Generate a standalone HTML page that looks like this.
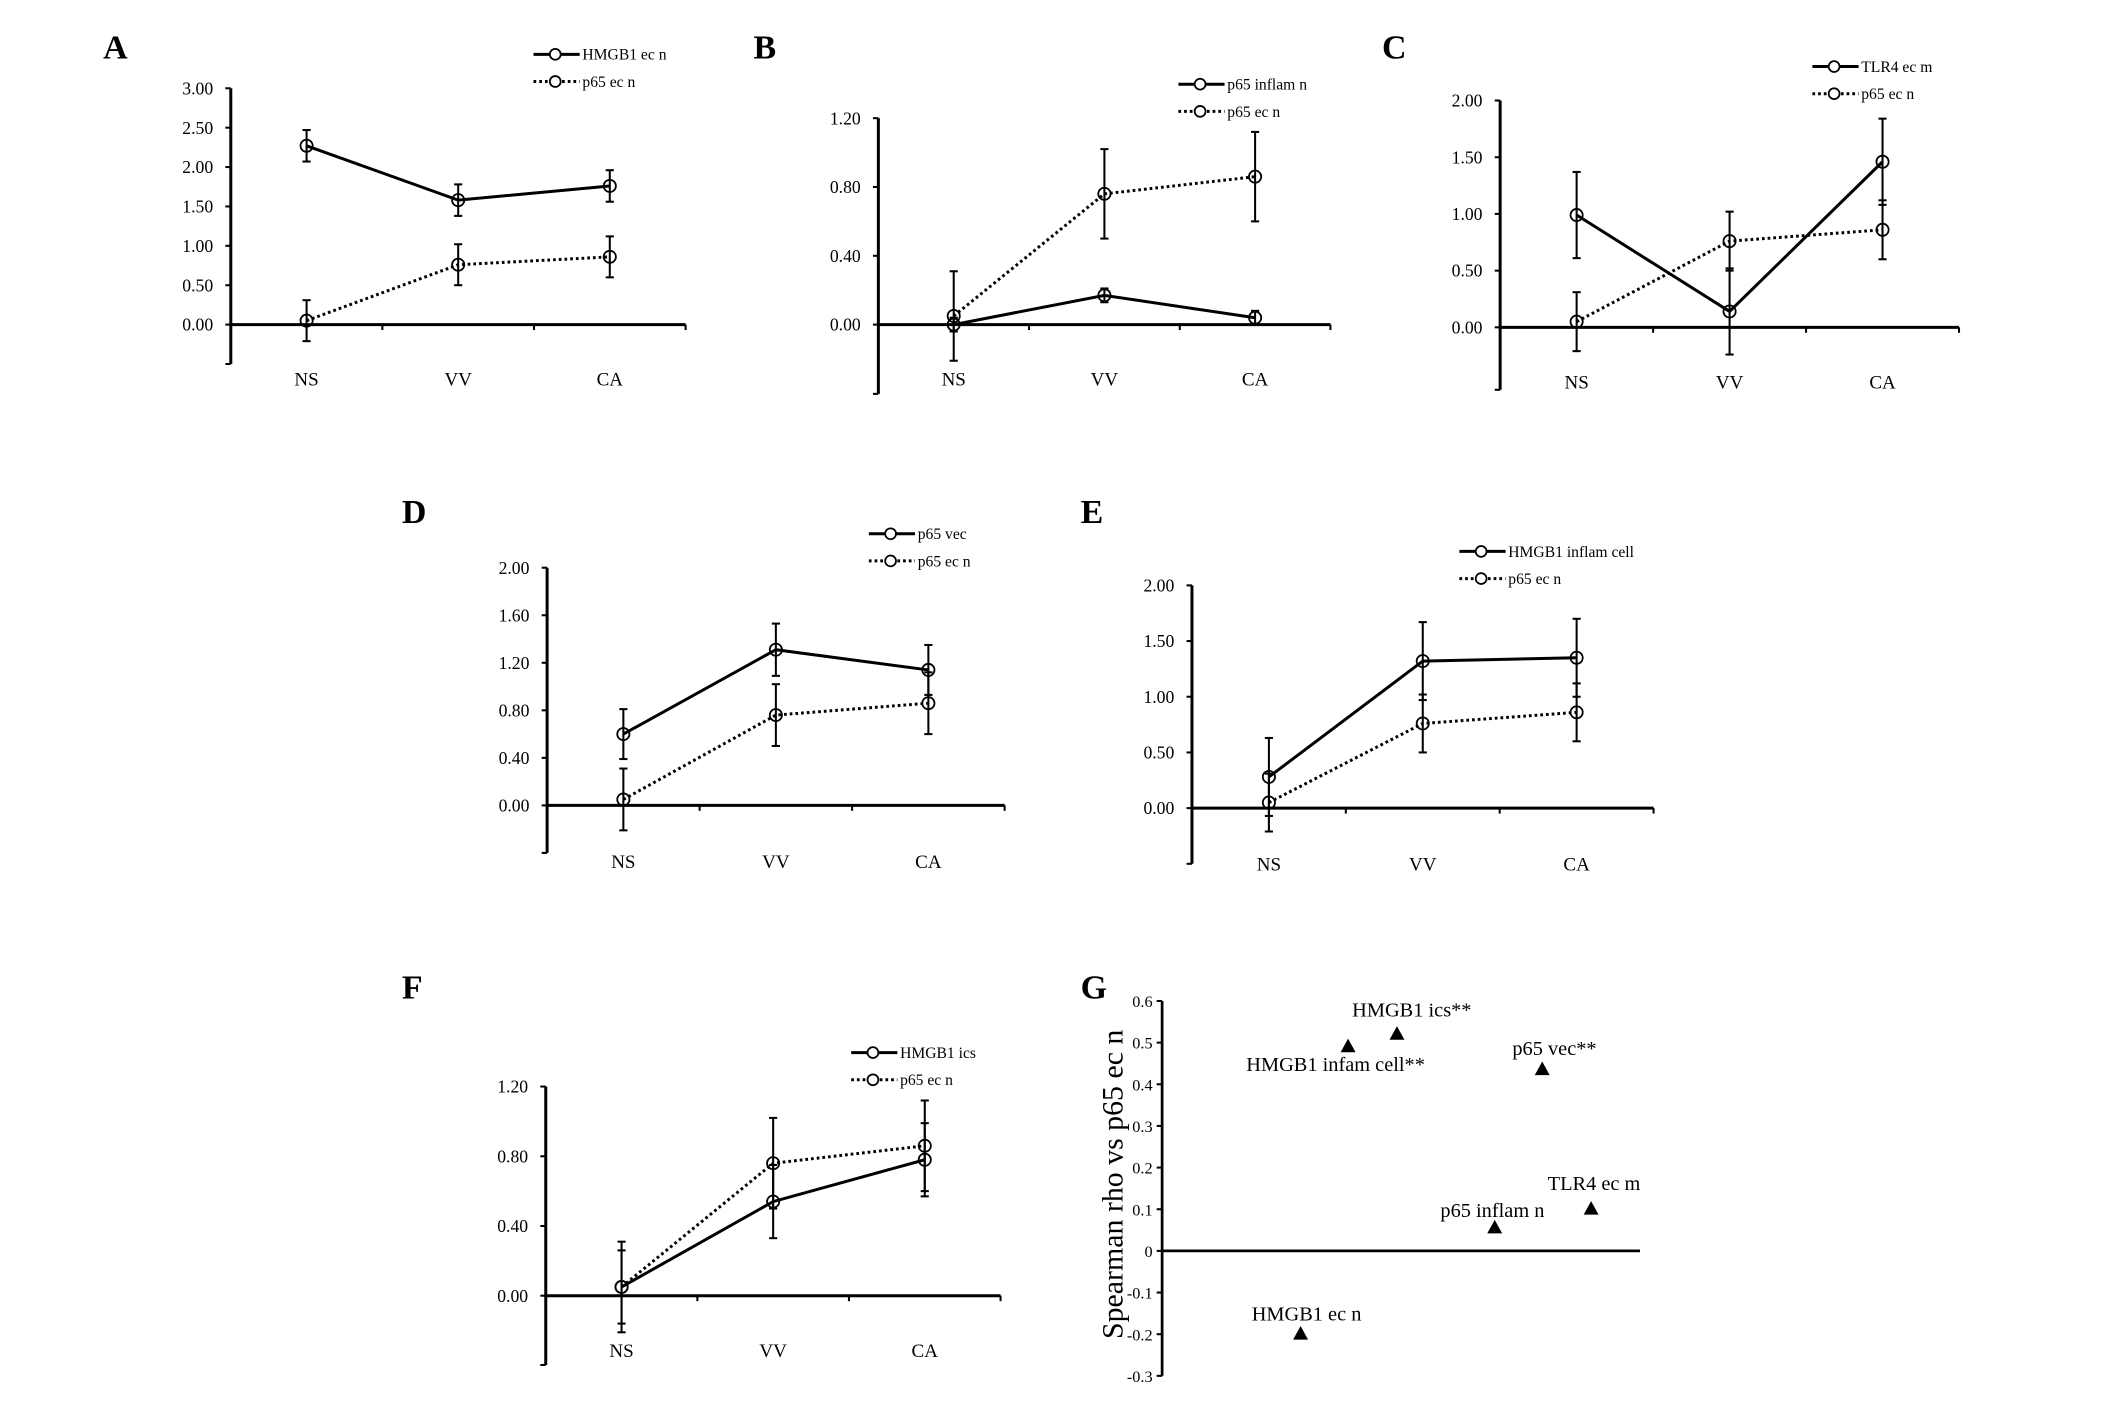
<!DOCTYPE html>
<html><head><meta charset="utf-8"><style>
html,body{margin:0;padding:0;background:#fff}
svg{display:block;font-family:"Liberation Serif",serif}
</style></head><body>
<svg id="fig" width="2126" height="1403" viewBox="0 0 1566 1033" preserveAspectRatio="none" xmlns="http://www.w3.org/2000/svg"></svg>
<script>
const categories = ["NS","VV","CA"];
const p65ecn = [0.05,0.76,0.86];
const p65ecnErr = [0.26,0.26,0.26];
const hmgb1ecn = [2.27,1.58,1.76];
const hmgb1ecnErr = [0.2,0.2,0.2];
const p65inflamn = [0.0,0.17,0.04];
const p65inflamnErr = [0.04,0.04,0.04];
const tlr4ecm = [0.99,0.14,1.46];
const tlr4ecmErr = [0.38,0.38,0.38];
const p65vec = [0.60,1.31,1.14];
const p65vecErr = [0.21,0.22,0.21];
const hmgb1inflamcell = [0.28,1.32,1.35];
const hmgb1inflamcellErr = [0.35,0.35,0.35];
const hmgb1ics = [0.05,0.54,0.78];
const hmgb1icsErr = [0.21,0.21,0.21];
const ticksA = [0,0.5,1,1.5,2,2.5,3];
const ticksB = [0,0.4,0.8,1.2];
const ticksC = [0,0.5,1,1.5,2];
const ticksD = [0,0.4,0.8,1.2,1.6,2];
const ticksE = [0,0.5,1,1.5,2];
const ticksF = [0,0.4,0.8,1.2];
const gLabels = ["HMGB1 ec n","HMGB1 infam cell**","HMGB1 ics**","p65 vec**","p65 inflam n","TLR4 ec m"];
const gRho = [-0.2,0.49,0.52,0.435,0.055,0.1];
const gTicks = [-0.3,-0.2,-0.1,0,0.1,0.2,0.3,0.4,0.5,0.6];

const NS="http://www.w3.org/2000/svg";
const svg=document.getElementById('fig');
function el(tag,attrs,parent){const e=document.createElementNS(NS,tag);for(const k in attrs)e.setAttribute(k,attrs[k]);(parent||svg).appendChild(e);return e;}
function txt(s,attrs,parent){const e=el('text',attrs,parent);e.textContent=s;return e;}

function panel(cfg){
  const g=el('g',{});
  
  
  const t=txt(cfg.letter,{x:cfg.lx,y:cfg.ly,'font-size':25,'font-weight':'bold'},g);
  
  
  const x0=cfg.ax,x1=cfg.axEnd,y0=cfg.zeroY,ymax=cfg.topY,tmax=cfg.ticks[cfg.ticks.length-1];
  const Y=v=>y0-(v/tmax)*(y0-ymax);
  const step=(x1-x0)/3;
  const X=i=>x0+step*(i+0.5);
  const ya=el('line',{x1:x0,y1:ymax,x2:x0,y2:cfg.bottomY,stroke:'#000','stroke-width':2.2},g);
  
  
  const xa=el('line',{x1:x0,y1:y0,x2:x1,y2:y0,stroke:'#000','stroke-width':2.2},g);
  
  
  for(let i=1;i<=3;i++) el('line',{x1:x0+step*i,y1:y0,x2:x0+step*i,y2:y0+4,stroke:'#000','stroke-width':1.5},g);
  el('line',{x1:x0-4,y1:cfg.bottomY,x2:x0,y2:cfg.bottomY,stroke:'#000','stroke-width':1.5},g);
  cfg.ticks.forEach(v=>{
    el('line',{x1:x0-4,y1:Y(v),x2:x0,y2:Y(v),stroke:'#000','stroke-width':1.5},g);
    const tl=txt(v.toFixed(2),{x:x0-13,y:Y(v)+4.5,'font-size':13,'text-anchor':'end'},g);
    
    
  });
  categories.forEach((c,i)=>{
    const cl=txt(c,{x:X(i),y:cfg.catY,'font-size':14,'text-anchor':'middle'},g);
    
    
  });
  cfg.series.forEach((s,si)=>{
    const dash=s.dotted?'2,2.2':'none';
    const pts=s.vals.map((v,i)=>X(i)+','+Y(v)).join(' ');
    const pl=el('polyline',{points:pts,fill:'none',stroke:'#000','stroke-width':2.2,'stroke-dasharray':dash},g);
    
    
    s.vals.forEach((v,i)=>{
      const e=s.err[i];
      el('line',{x1:X(i),y1:Y(v-e),x2:X(i),y2:Y(v+e),stroke:'#000','stroke-width':1.5},g);
      el('line',{x1:X(i)-3,y1:Y(v-e),x2:X(i)+3,y2:Y(v-e),stroke:'#000','stroke-width':1.5},g);
      el('line',{x1:X(i)-3,y1:Y(v+e),x2:X(i)+3,y2:Y(v+e),stroke:'#000','stroke-width':1.5},g);
      const m=el('circle',{cx:X(i),cy:Y(v),r:4.5,fill:'none',stroke:'#000','stroke-width':1.3},g);
      
      
    });
    const ly=cfg.legY+si*20;
    const lg=el('g',{},g);
    
    
    el('line',{x1:cfg.legX,y1:ly,x2:cfg.legX+34,y2:ly,stroke:'#000','stroke-width':2.2,'stroke-dasharray':dash},lg);
    el('circle',{cx:cfg.legX+16,cy:ly,r:4,fill:'#fff',stroke:'#000','stroke-width':1.3},lg);
    txt(s.name,{x:cfg.legX+36,y:ly+4,'font-size':11.5},lg);
  });
}
const p65 = {name:'p65 ec n',vals:p65ecn,err:p65ecnErr,dotted:true,key:'p65-ec-n'};
panel({letter:'A',lx:76,ly:43,ax:170,axEnd:505,zeroY:239,topY:65,bottomY:268,catY:284,ticks:ticksA,legX:393,legY:40,
  series:[{name:'HMGB1 ec n',vals:hmgb1ecn,err:hmgb1ecnErr,key:'hmgb1-ec-n'},p65]});
panel({letter:'B',lx:555,ly:43,ax:647,axEnd:980,zeroY:239,topY:87,bottomY:290,catY:284,ticks:ticksB,legX:868,legY:62,
  series:[{name:'p65 inflam n',vals:p65inflamn,err:p65inflamnErr,key:'p65-inflam-n'},p65]});
panel({letter:'C',lx:1018,ly:43,ax:1105,axEnd:1443,zeroY:241,topY:74,bottomY:287,catY:286,ticks:ticksC,legX:1335,legY:49,
  series:[{name:'TLR4 ec m',vals:tlr4ecm,err:tlr4ecmErr,key:'tlr4-ec-m'},p65]});
panel({letter:'D',lx:296,ly:385,ax:403,axEnd:740,zeroY:593,topY:418,bottomY:628,catY:639,ticks:ticksD,legX:640,legY:393,
  series:[{name:'p65 vec',vals:p65vec,err:p65vecErr,key:'p65-vec'},p65]});
panel({letter:'E',lx:796,ly:385,ax:878,axEnd:1218,zeroY:595,topY:431,bottomY:636,catY:641,ticks:ticksE,legX:1075,legY:406,
  series:[{name:'HMGB1 inflam cell',vals:hmgb1inflamcell,err:hmgb1inflamcellErr,key:'hmgb1-inflam-cell'},p65]});
panel({letter:'F',lx:296,ly:735,ax:402,axEnd:737,zeroY:954,topY:800,bottomY:1005,catY:999,ticks:ticksF,legX:627,legY:775,
  series:[{name:'HMGB1 ics',vals:hmgb1ics,err:hmgb1icsErr,key:'hmgb1-ics'},p65]});

// Panel G
(function(){
  const g=el('g',{});
  
  
  const t=txt('G',{x:796,y:735,'font-size':25,'font-weight':'bold'},g);
  
  
  const ax=856, zeroY=921, topY=737;
  const Y=v=>zeroY-(v/0.6)*(zeroY-topY);
  const ya=el('line',{x1:ax,y1:Y(0.6),x2:ax,y2:Y(-0.3),stroke:'#000','stroke-width':2},g);
  
  
  const xa=el('line',{x1:ax,y1:zeroY,x2:1208,y2:zeroY,stroke:'#000','stroke-width':2},g);
  
  
  gTicks.forEach(v=>{
    el('line',{x1:ax-4,y1:Y(v),x2:ax,y2:Y(v),stroke:'#000','stroke-width':1.5},g);
    const tl=txt(String(Math.round(v*10)/10),{x:ax-7,y:Y(v)+4.5,'font-size':12,'text-anchor':'end'},g);
    
    
  });
  const yt=txt('Spearman rho vs p65 ec n',{x:0,y:0,'font-size':22,'text-anchor':'middle',transform:'translate(827,872) rotate(-90)'},g);
  
  
  const px=[958,993,1029,1136,1101,1172];
  const loff=[[-36,-10],[-75,18],[-33,-13],[-22,-11],[-40,-8],[-32,-14]];
  gLabels.forEach((l,i)=>{
    const y=Y(gRho[i]);
    const m=el('path',{d:`M${px[i]},${y-6} L${px[i]+5.5},${y+4} L${px[i]-5.5},${y+4} Z`,fill:'#000'},g);
    
    
    const lt=txt(l,{x:px[i]+loff[i][0],y:y+loff[i][1],'font-size':15},g);
    
    
  });
})();
</script>
</body></html>
